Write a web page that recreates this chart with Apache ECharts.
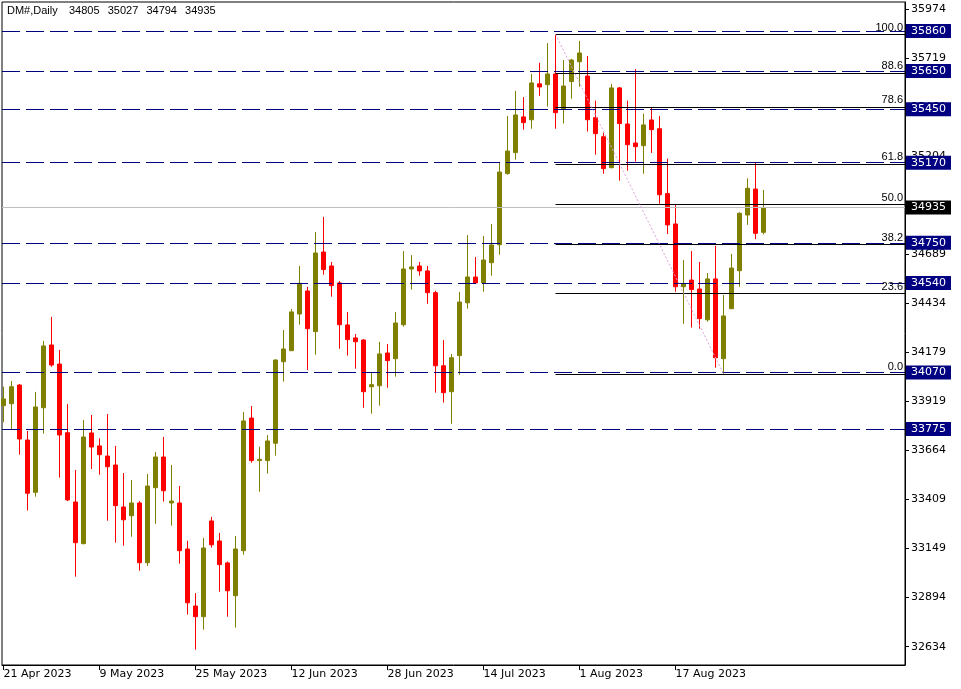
<!DOCTYPE html>
<html><head><meta charset="utf-8">
<script src="https://cdn.jsdelivr.net/npm/echarts@6/dist/echarts.min.js"></script>
<style>html,body{margin:0;padding:0;background:#fff}#c{width:961px;height:689px}</style>
</head><body><div id="c"></div>
<script>
const symbolName = 'DM#,Daily';
const firstDate = '2023-04-21';
const opens = [33897,33907,34005,33717,33443,33886,34215,34115,33755,33392,
33174,33754,33686,33633,33586,33366,33320,33387,33074,33467,
33628,33387,33387,33146,32847,32791,33293,33188,33073,32901,
33137,33832,33609,33609,33700,34127,34185,34377,34498,34285,
34702,34629,34540,34320,34252,34241,33996,34001,34173,34143,
34321,34613,34629,34603,34489,34106,33970,34159,34436,34571,
34540,34646,34740,35113,35223,35410,35395,35583,35579,35635,
35453,35595,35699,35624,35406,35306,35144,35562,35373,35273,
35259,35394,35348,35008,34849,34520,34555,34508,34347,34561,
34143,34405,34604,34896,35032,34805];
const highs = [33996,34026,34010,33764,33969,34236,34362,34189,33906,33560,
33822,33848,33726,33853,33686,33544,33507,33397,33539,33654,
33733,33586,33476,33189,32915,33204,33314,33230,33080,33214,
33864,33895,33682,33743,34140,34293,34403,34629,34519,34807,
34886,34650,34550,34388,34272,34245,34073,34231,34220,34388,
34707,34686,34650,34629,34499,34241,34168,34493,34791,34676,
34786,34849,35174,35415,35546,35514,35635,35693,35797,35840,
35708,35714,35808,35729,35495,35327,35583,35567,35495,35661,
35427,35458,35415,35191,34952,34660,34707,34650,34592,34734,
34477,34692,34910,35088,35172,35027];
const lows = [33810,33773,33640,33347,33420,33750,34101,33520,33397,33001,
33170,33565,33535,33294,33179,33163,33210,33032,33057,33278,
33394,33268,33069,32802,32618,32723,33153,32922,32791,32734,
33116,33598,33446,33541,33635,34023,34183,34321,34084,34164,
34583,34468,34195,34159,34091,33886,33855,33897,33991,34049,
34311,34505,34578,34431,33965,33913,33802,34059,34405,34535,
34494,34578,34688,35107,35186,35343,35348,35520,35464,35348,
35375,35505,35568,35333,35212,35112,35140,35076,35128,35176,
35112,35221,34955,34796,34494,34326,34306,34300,34337,34096,
34064,34405,34520,34844,34769,34794];
const closes = [33932,33996,33722,33438,33890,34210,34110,33743,33403,33179,
33733,33680,33640,33577,33373,33299,33387,33074,33476,33628,
33451,33397,33137,32864,32791,33151,33168,33064,32927,33146,
33817,33609,33616,33712,34136,34194,34388,34538,34300,34697,
34610,34526,34321,34243,34232,33970,34007,34168,34133,34330,
34613,34624,34603,34489,34106,33965,34148,34440,34571,34540,
34660,34739,35121,35231,35420,35380,35588,35567,35635,35432,
35572,35708,35745,35395,35322,35139,35562,35375,35264,35254,
35368,35343,35002,34844,34520,34536,34505,34353,34561,34148,
34367,34618,34905,35036,34800,34935];

const levelPrices = [35860, 35650, 35450, 35170, 34750, 34540, 34070, 33775];
const bidPrice = 34935;
const fibHigh = 35843;
const fibLow = 34064;
const fibStartIndex = 69;
const fibEndIndex = 90;
const fibLevels = [100.0, 88.6, 78.6, 61.8, 50.0, 38.2, 23.6, 0.0];
const yTickValues = [35974, 35719, 35460, 35204, 34944, 34689, 34434, 34179, 33919, 33664, 33409, 33149, 32894, 32634];
const xTickIndexes = [0, 12, 24, 36, 48, 60, 72, 84];

// trading-day labels (weekdays) starting from firstDate
const MONTHS = ['Jan','Feb','Mar','Apr','May','Jun','Jul','Aug','Sep','Oct','Nov','Dec'];
const dates = [];
(function () {
  const d = new Date(firstDate + 'T00:00:00Z');
  while (dates.length < opens.length) {
    const wd = d.getUTCDay();
    if (wd !== 0 && wd !== 6) dates.push(d.getUTCDate() + ' ' + MONTHS[d.getUTCMonth()] + ' ' + d.getUTCFullYear());
    d.setUTCDate(d.getUTCDate() + 1);
  }
})();

const candles = opens.map((o, i) => [i, o, closes[i], lows[i], highs[i]]);
const n = opens.length;

const X_MIN = -0.1875, X_MAX = 112.6875;
const Y_MIN = 32538, Y_MAX = 36012;

const tagLabel = (txt, bg) => ({ show: true, position: 'end', formatter: txt, distance: 1,
  backgroundColor: bg, color: '#ffffff', padding: [2, 5, 1, 5],
  fontFamily: 'DejaVu Sans', fontSize: 11 });

const markData = [];
levelPrices.forEach(p => {
  markData.push({
    yAxis: p,
    lineStyle: { color: '#000080', type: [18, 6], width: 1 },
    label: tagLabel(String(p), '#000080')
  });
});
markData.push({
  yAxis: bidPrice,
  lineStyle: { color: '#C0C0C0', type: 'solid', width: 1 },
  label: tagLabel(String(bidPrice), '#000000')
});
fibLevels.forEach(lv => {
  const p = fibLow + (fibHigh - fibLow) * lv / 100;
  markData.push([
    { coord: [fibStartIndex, p],
      lineStyle: { color: '#000000', type: 'solid', width: 1 },
      label: { show: true, position: 'insideEndTop', formatter: lv.toFixed(1), distance: [2, 1],
        color: '#000000', fontFamily: 'Liberation Sans', fontSize: 11 } },
    { coord: [X_MAX, p] }
  ]);
});
markData.push([
  { coord: [fibStartIndex, fibHigh], lineStyle: { color: '#DDA0DD', type: [2, 2], width: 1 }, label: { show: false } },
  { coord: [fibEndIndex, fibLow] }
]);

const chart = echarts.init(document.getElementById('c'), null, { renderer: 'canvas' });
chart.setOption({
  animation: false,
  backgroundColor: '#ffffff',
  title: {
    left: 7, top: 5, padding: 0,
    text: '{a|' + symbolName + '}{b|' + opens[n - 1] + '}{b|' + highs[n - 1] + '}{b|' + lows[n - 1] + '}{c|' + closes[n - 1] + '}',
    textStyle: {
      fontFamily: 'Liberation Sans', fontSize: 11, fontWeight: 'normal', color: '#000',
      rich: {
        a: { width: 62, fontFamily: 'Liberation Sans', fontSize: 11, color: '#000' },
        b: { width: 38.7, fontFamily: 'Liberation Sans', fontSize: 11, color: '#000' },
        c: { fontFamily: 'Liberation Sans', fontSize: 11, color: '#000' }
      }
    }
  },
  grid: { left: 2, right: 56, top: 2, bottom: 24, show: true, borderColor: '#000', borderWidth: 1, backgroundColor: '#fff' },
  xAxis: {
    type: 'value', min: X_MIN, max: X_MAX,
    axisLine: { show: true, onZero: false, lineStyle: { color: '#000', width: 1 } },
    axisTick: { show: true, customValues: xTickIndexes, length: 5, lineStyle: { color: '#000' } },
    axisLabel: { show: true, customValues: xTickIndexes, formatter: v => dates[Math.round(v)] || '',
      align: 'left', margin: 4, fontFamily: 'DejaVu Sans', fontSize: 11, color: '#000' },
    splitLine: { show: false }
  },
  yAxis: {
    type: 'value', position: 'right', min: Y_MIN, max: Y_MAX, scale: true,
    axisLine: { show: true, onZero: false, lineStyle: { color: '#000', width: 1 } },
    axisTick: { show: true, customValues: yTickValues, length: 4, lineStyle: { color: '#000' } },
    axisLabel: { show: true, customValues: yTickValues, formatter: v => String(Math.round(v)),
      margin: 6, fontFamily: 'DejaVu Sans', fontSize: 11, color: '#000' },
    splitLine: { show: false }
  },
  series: [{
    type: 'candlestick',
    data: candles,
    encode: { x: 0, y: [1, 2, 3, 4] },
    barWidth: 4,
    itemStyle: { color: '#808000', color0: '#FF0000', borderColor: '#808000', borderColor0: '#FF0000', borderWidth: 1 },
    markLine: { symbol: ['none', 'none'], silent: true, animation: false, data: markData }
  }]
});
</script>
</body></html>
